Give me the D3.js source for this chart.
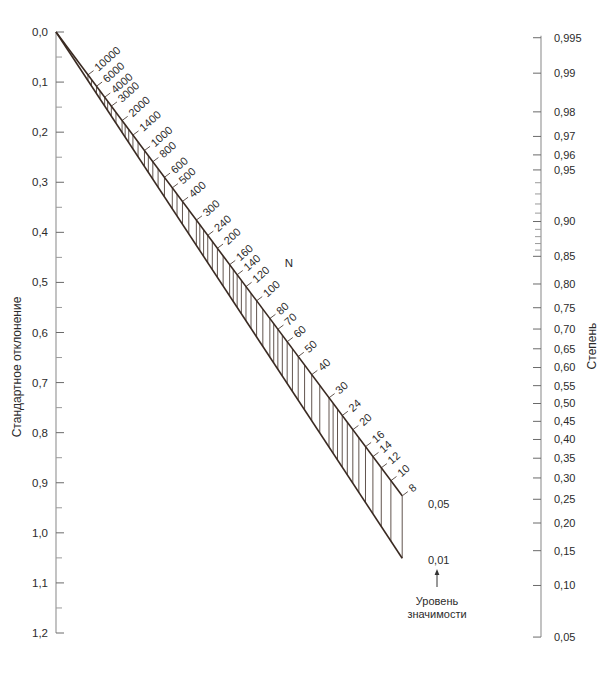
<!DOCTYPE html>
<html><head><meta charset="utf-8">
<script src="https://cdn.jsdelivr.net/npm/d3@7/dist/d3.min.js"></script>
<style>
body{margin:0;background:#fff;}
text{font-family:"Liberation Sans",Arial,sans-serif;fill:#2b2b2b;}
</style></head>
<body><svg id="chart" width="608" height="674"></svg>
<script>
// ---- data ----
const sdTicks = [0,0.1,0.2,0.3,0.4,0.5,0.6,0.7,0.8,0.9,1.0,1.1,1.2];
const sdMinor = [0.05,0.15,0.25,0.35,0.45,0.55,0.65,0.75,0.85,0.95,1.05,1.15];
const powerTicks = [0.995,0.99,0.98,0.97,0.96,0.95,0.90,0.85,0.80,0.75,0.70,0.65,0.60,0.55,0.50,0.45,0.40,0.35,0.30,0.25,0.20,0.15,0.10,0.05];
const powerMinor = [0.94,0.93,0.92,0.91,0.89,0.88,0.87,0.86];
const nLabels = [8,10,12,14,16,20,24,30,40,50,60,70,80,100,120,140,160,200,240,300,400,500,600,800,1000,1400,2000,3000,4000,6000,10000];
const nHatch = [8,10,12,14,16,18,20,22,24,26,28,30,35,40,45,50,55,60,65,70,75,80,90,100,110,120,130,140,150,160,180,200,220,240,260,280,300,350,400,450,500,600,700,800,900,1000,1200,1400,1600,1800,2000,2500,3000,3500,4000,5000,6000,8000,10000];
const alphaLevels = [{label:"0,05", z:1.959964}, {label:"0,01", z:2.575829}];
const titles = {left:"Стандартное отклонение", right:"Степень", n:"N", alphaTitle:["Уровень","значимости"]};

// ---- helpers ----
function probit(p){
  const a=[-3.969683028665376e+01,2.209460984245205e+02,-2.759285104469687e+02,1.383577518672690e+02,-3.066479806614716e+01,2.506628277459239e+00];
  const b=[-5.447609879822406e+01,1.615858368580409e+02,-1.556989798598866e+02,6.680131188771972e+01,-1.328068155288572e+01];
  const c=[-7.784894002430293e-03,-3.223964580411365e-01,-2.400758277161838e+00,-2.549732539343734e+00,4.374664141464968e+00,2.938163982698783e+00];
  const d=[7.784695709041462e-03,3.224671290700398e-01,2.445134137142996e+00,3.754408661907416e+00];
  const pl=0.02425, ph=1-pl; let q,r;
  if(p<pl){q=Math.sqrt(-2*Math.log(p));return (((((c[0]*q+c[1])*q+c[2])*q+c[3])*q+c[4])*q+c[5])/((((d[0]*q+d[1])*q+d[2])*q+d[3])*q+1);}
  if(p>ph){q=Math.sqrt(-2*Math.log(1-p));return -(((((c[0]*q+c[1])*q+c[2])*q+c[3])*q+c[4])*q+c[5])/((((d[0]*q+d[1])*q+d[2])*q+d[3])*q+1);}
  q=p-0.5;r=q*q;return (((((a[0]*r+a[1])*r+a[2])*r+a[3])*r+a[4])*r+a[5])*q/(((((b[0]*r+b[1])*r+b[2])*r+b[3])*r+b[4])*r+1);
}
const fmtSD = v => d3.format(".1f")(v).replace(".", ",");
const fmtP = v => { let s = d3.format(".3~f")(v); if (s.split(".")[1] && s.split(".")[1].length<2) s = d3.format(".2f")(v); return s.replace(".", ","); };

const svg = d3.select("#chart");
const xL = 56, xR = 541;
const ySD = d3.scaleLinear().domain([0,1.2]).range([32,633]);
const zScale = d3.scaleLinear().domain([0,1]).range([403.5,261.5]);
const yPow = p => zScale(probit(p));
const kz = zScale(0) - zScale(1);
// nomogram geometry: fraction along x for sample size N
const aN = (ySD(1) - ySD(0)) * 2 / kz;
const tN = n => aN / (aN + Math.sqrt(n));
const xN = n => xL + tN(n) * (xR - xL);
const yN = (n, z) => ySD(0) + tN(n) * (zScale(0) - ySD(0) + kz * z);

const axisCol = "#9a9a9a", tickCol = "#6a6a6a", ink = "#3a2a22";

// ---- left axis ----
const gL = svg.append("g");
gL.append("line").attr("x1",xL).attr("x2",xL).attr("y1",ySD(0)).attr("y2",ySD(1.2)).attr("stroke",axisCol).attr("stroke-width",1.2);
gL.selectAll(".mj").data(sdTicks).join("line").attr("x1",xL).attr("x2",xL+8).attr("y1",d=>ySD(d)).attr("y2",d=>ySD(d)).attr("stroke",tickCol);
gL.selectAll(".mn").data(sdMinor).join("line").attr("x1",xL).attr("x2",xL+6).attr("y1",d=>ySD(d)).attr("y2",d=>ySD(d)).attr("stroke",axisCol);
gL.selectAll("text").data(sdTicks).join("text").attr("x",xL-8).attr("y",d=>ySD(d)).attr("dy","0.35em").attr("text-anchor","end").attr("font-size",11.5).text(fmtSD);
svg.append("text").attr("transform","translate(21,367) rotate(-90)").attr("text-anchor","middle").attr("font-size",12).text(titles.left);

// ---- right axis ----
const gR = svg.append("g");
gR.append("line").attr("x1",xR).attr("x2",xR).attr("y1",yPow(0.995)-2).attr("y2",yPow(0.05)).attr("stroke",axisCol).attr("stroke-width",1.2);
gR.selectAll(".mj").data(powerTicks).join("line").attr("x1",xR-8).attr("x2",xR).attr("y1",d=>yPow(d)).attr("y2",d=>yPow(d)).attr("stroke",tickCol);
gR.selectAll(".mn").data(powerMinor).join("line").attr("x1",xR-6).attr("x2",xR).attr("y1",d=>yPow(d)).attr("y2",d=>yPow(d)).attr("stroke",axisCol);
gR.selectAll("text").data(powerTicks).join("text").attr("x",xR+13).attr("y",d=>yPow(d)).attr("dy","0.35em").attr("font-size",11).text(fmtP);
svg.append("text").attr("transform","translate(596,346) rotate(-90)").attr("text-anchor","middle").attr("font-size",12).text(titles.right);

// ---- N scale ----
const nMin = d3.min(nLabels);
const gN = svg.append("g");
gN.selectAll(".h").data(nHatch).join("line")
  .attr("x1",d=>xN(d)).attr("x2",d=>xN(d))
  .attr("y1",d=>yN(d,alphaLevels[0].z)).attr("y2",d=>yN(d,alphaLevels[1].z))
  .attr("stroke",ink).attr("stroke-width",0.8);
alphaLevels.forEach(a=>{
  gN.append("line").attr("x1",xL).attr("y1",ySD(0)).attr("x2",xN(nMin)).attr("y2",yN(nMin,a.z)).attr("stroke",ink).attr("stroke-width",1.6);
});
// perpendicular direction
const dx = xN(nMin)-xL, dy = yN(nMin,alphaLevels[0].z)-ySD(0), len = Math.hypot(dx,dy);
const px = dy/len, py = -dx/len;
const ang = Math.atan2(py,px)*180/Math.PI - 5;
gN.selectAll(".t").data(nLabels).join("line")
  .attr("x1",d=>xN(d)).attr("y1",d=>yN(d,alphaLevels[0].z))
  .attr("x2",d=>xN(d)+px*7).attr("y2",d=>yN(d,alphaLevels[0].z)+py*7)
  .attr("stroke",ink).attr("stroke-width",0.8);
gN.selectAll("text").data(nLabels).join("text")
  .attr("transform",d=>`translate(${xN(d)+px*10},${yN(d,alphaLevels[0].z)+py*10}) rotate(${ang})`)
  .attr("dy","0.35em").attr("font-size",11).text(d=>d);
svg.append("text").attr("x",289).attr("y",263).attr("dy","0.35em").attr("text-anchor","middle").attr("font-size",11.5).text(titles.n);

// ---- alpha labels ----
const alphaDy = [8, 2];
svg.selectAll(".al").data(alphaLevels).join("text")
  .attr("x",428).attr("y",(d,i)=>yN(nMin,d.z)+alphaDy[i]).attr("dy","0.35em").attr("font-size",11).text(d=>d.label);
svg.append("defs").append("marker").attr("id","ah").attr("viewBox","0 0 10 10").attr("refX",5).attr("refY",5)
  .attr("markerWidth",6).attr("markerHeight",7).attr("orient","auto")
  .append("path").attr("d","M0,1 L10,5 L0,9 Z").attr("fill","#333");
svg.append("line").attr("x1",437).attr("x2",437).attr("y1",587).attr("y2",572).attr("stroke","#333").attr("stroke-width",1).attr("marker-end","url(#ah)");
svg.selectAll(".at").data(titles.alphaTitle).join("text")
  .attr("x",437).attr("y",(d,i)=>601+i*13).attr("dy","0.35em").attr("text-anchor","middle").attr("font-size",11).text(d=>d);
</script></body></html>
